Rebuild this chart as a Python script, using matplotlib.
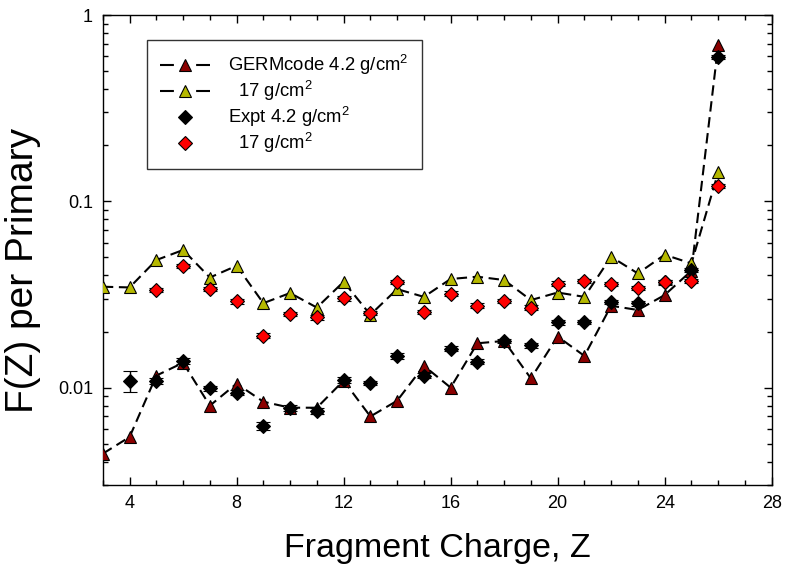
import matplotlib
matplotlib.use("Agg")
import matplotlib.pyplot as plt
from matplotlib.ticker import FixedLocator, NullFormatter, LogLocator, MultipleLocator
from matplotlib.lines import Line2D
import numpy as np

plt.rcParams['font.family'] = ['Liberation Sans', 'DejaVu Sans']
plt.rcParams['mathtext.fontset'] = 'custom'
plt.rcParams['mathtext.rm'] = 'Liberation Sans'
plt.rcParams['mathtext.it'] = 'Liberation Sans:italic'

# GERMcode model
z_model = list(range(3, 27))
germ_42 = [0.00442, 0.00543, 0.0116, 0.0136, 0.0080, 0.0105, 0.0084, 0.0078, 0.0078,
           0.0109, 0.0070, 0.0085, 0.0131, 0.0100, 0.0173, 0.0178, 0.0112, 0.0188,
           0.0148, 0.0275, 0.0261, 0.0314, 0.0424, 0.687]
germ_17 = [0.0348, 0.0345, 0.0484, 0.0548, 0.0390, 0.0451, 0.0284, 0.0322, 0.0269,
           0.0370, 0.0246, 0.0338, 0.0307, 0.0383, 0.0394, 0.0378, 0.0295, 0.0324,
           0.0307, 0.0504, 0.0410, 0.0517, 0.0464, 0.143]

# Experiment
z_exp42 = list(range(4, 27))
expt_42 = [0.0109, 0.0109, 0.0139, 0.0099, 0.0094, 0.0062, 0.0078, 0.0075, 0.0110,
           0.0106, 0.0148, 0.0116, 0.0162, 0.0138, 0.0178, 0.0169, 0.0224, 0.0226,
           0.0289, 0.0283, 0.0367, 0.0428, 0.594]
err_42 = [0.0014, 0.0004, 0.0005, 0.0003, 0.0003, 0.0003, 0.0003, 0.0003, 0.0004,
          0.0003, 0.0005, 0.0004, 0.0005, 0.0004, 0.0005, 0.0005, 0.0006, 0.0006,
          0.0008, 0.0008, 0.0010, 0.0012, 0.015]
z_exp17 = list(range(5, 27))
expt_17 = [0.0334, 0.0448, 0.0338, 0.0290, 0.0190, 0.0248, 0.0238, 0.0301, 0.0251,
           0.0370, 0.0255, 0.0320, 0.0275, 0.0292, 0.0269, 0.0362, 0.0375, 0.0360,
           0.0342, 0.0370, 0.0375, 0.121]
err_17 = [0.0009, 0.0012, 0.0009, 0.0008, 0.0006, 0.0007, 0.0007, 0.0008, 0.0007,
          0.0010, 0.0007, 0.0009, 0.0008, 0.0008, 0.0007, 0.0010, 0.0010, 0.0010,
          0.0009, 0.0010, 0.0010, 0.003]

legend_labels = ['GERMcode 4.2 g/cm$^2$', '  17 g/cm$^2$', 'Expt 4.2 g/cm$^2$', '  17 g/cm$^2$']
x_ticks = [4, 8, 12, 16, 20, 24, 28]
y_ticks = [0.01, 0.1, 1]
y_ticklabels = ['0.01', '0.1', '1']

c_dark = '#8B0000'
c_yel = '#B5B800'
c_red = '#FF0000'

fig = plt.figure(figsize=(7.85, 5.71), dpi=100)
ax = fig.add_axes([0.131, 0.1506, 0.852, 0.823])

dash = (0, (5, 2.7))
ax.plot(z_model, germ_42, linestyle=dash, color='black', lw=1.5, marker='^',
        ms=9, mfc=c_dark, mec='black', mew=0.8, zorder=3)
ax.plot(z_model, germ_17, linestyle=dash, color='black', lw=1.5, marker='^',
        ms=9, mfc=c_yel, mec='black', mew=0.8, zorder=3)
ax.errorbar(z_exp42, expt_42, yerr=err_42, fmt='D', ms=7, mfc='black', mec='black',
            mew=0.8, ecolor='black', elinewidth=1, capsize=5, zorder=4)
ax.errorbar(z_exp17, expt_17, yerr=err_17, fmt='D', ms=7, mfc=c_red, mec='black',
            mew=0.8, ecolor='black', elinewidth=1, capsize=5, zorder=4)

ax.set_yscale('log')
ax.set_xlim(3, 28)
ax.set_ylim(0.003, 1)
ax.xaxis.set_major_locator(FixedLocator(x_ticks))
ax.xaxis.set_minor_locator(MultipleLocator(1))
ax.yaxis.set_major_locator(FixedLocator(y_ticks))
ax.yaxis.set_minor_locator(LogLocator(base=10, subs=np.arange(2, 10)))
ax.yaxis.set_minor_formatter(NullFormatter())
ax.set_yticklabels(y_ticklabels)
ax.tick_params(which='both', direction='in', top=True, right=True, labelsize=13, width=1)
ax.tick_params(which='major', length=5.5, pad=7)
ax.tick_params(which='minor', length=3.5)
for s in ax.spines.values():
    s.set_linewidth(1)

ax.set_xlabel('Fragment Charge, Z', fontsize=24.5)
ax.set_ylabel('F(Z) per Primary', fontsize=28)
ax.xaxis.set_label_coords(0.5, -0.103)
ax.yaxis.set_label_coords(-0.093, 0.457)

leg_dash = (0, (6.67, 10.67))
h = [Line2D([], [], linestyle=leg_dash, color='black', lw=1.5, marker='^', ms=9, mfc=c_dark, mec='black', mew=0.8),
     Line2D([], [], linestyle=leg_dash, color='black', lw=1.5, marker='^', ms=9, mfc=c_yel, mec='black', mew=0.8),
     Line2D([], [], linestyle='none', marker='D', ms=7, mfc='black', mec='black', mew=0.8),
     Line2D([], [], linestyle='none', marker='D', ms=7, mfc=c_red, mec='black', mew=0.8)]
leg = ax.legend(h, legend_labels,
                loc='upper left', bbox_to_anchor=(0.0658, 0.9468), fontsize=13.3, frameon=True,
                fancybox=False, edgecolor='black', handlelength=2.7, borderpad=0.72,
                labelspacing=0.1, handletextpad=1.0, borderaxespad=0)
leg.get_frame().set_linewidth(1)
leg._legend_box.align = 'left'

fig.savefig('out.png', dpi=100)
